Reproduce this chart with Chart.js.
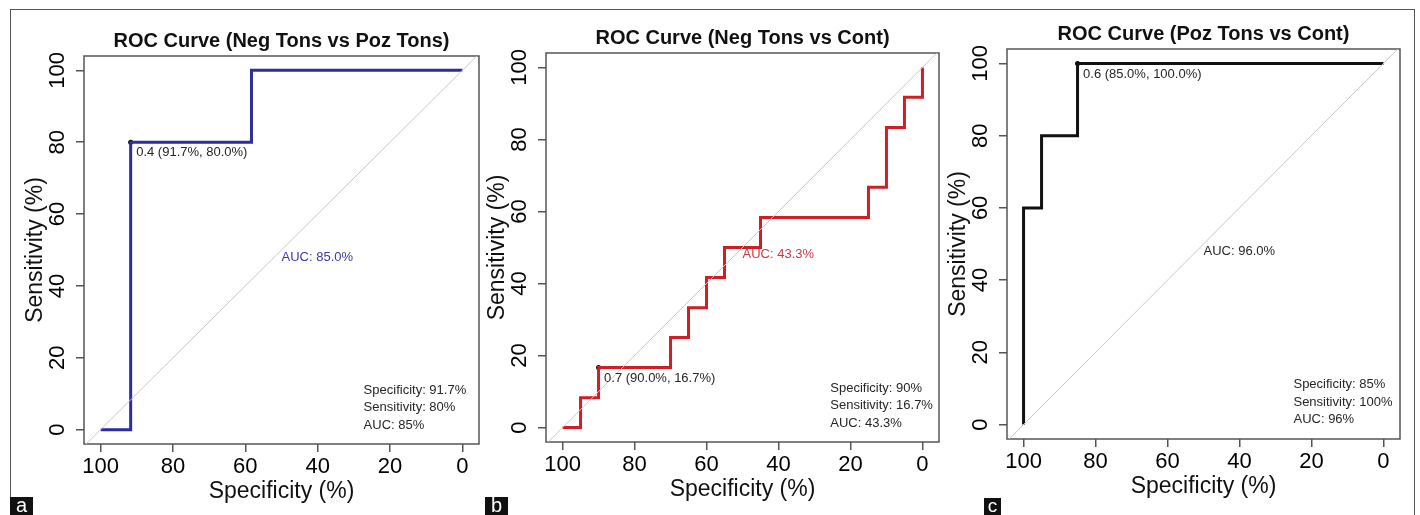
<!DOCTYPE html>
<html><head><meta charset="utf-8">
<script src="https://cdn.jsdelivr.net/npm/chart.js@4.4.1/dist/chart.umd.min.js"></script>
<style>
html,body{margin:0;padding:0;background:#fff;width:1420px;height:515px;overflow:hidden;position:relative;font-family:'Liberation Sans',Arial,sans-serif}
.frame{position:absolute;left:10px;top:9px;width:1405px;height:530px;border:1px solid #555;box-sizing:border-box}
canvas{position:absolute}
.tag{position:absolute;background:#111;color:#fff;font-size:20px;text-align:center;font-family:'Liberation Sans',Arial,sans-serif}
</style></head><body>
<div class="frame"></div>
<canvas id="ca" width="471" height="493" style="left:14px;top:16px"></canvas>
<canvas id="cb" width="469" height="494" style="left:476px;top:13px"></canvas>
<canvas id="cc" width="469" height="495" style="left:937px;top:9px"></canvas>
<div class="tag" style="left:10px;top:497px;width:23px;height:18px;line-height:16px">a</div>
<div class="tag" style="left:485px;top:497px;width:23px;height:18px;line-height:16px">b</div>
<div class="tag" style="left:984px;top:498px;width:17px;height:17px;line-height:15px;font-size:19px">c</div>
<script>
// ---- data ----
const tickValues = [0, 20, 40, 60, 80, 100];
const titles = ["ROC Curve (Neg Tons vs Poz Tons)", "ROC Curve (Neg Tons vs Cont)", "ROC Curve (Poz Tons vs Cont)"];
const xAxisTitle = "Specificity (%)";
const yAxisTitle = "Sensitivity (%)";

const specA = [100, 91.7, 91.7, 58.3, 58.3, 0];
const sensA = [0, 0, 80, 80, 100, 100];
const specB = [100, 95, 95, 90, 90, 70, 70, 65, 65, 60, 60, 55, 55, 45, 45, 15, 15, 10, 10, 5, 5, 0, 0];
const sensB = [0, 0, 8.3, 8.3, 16.7, 16.7, 25, 25, 33.3, 33.3, 41.7, 41.7, 50, 50, 58.3, 58.3, 66.7, 66.7, 83.3, 83.3, 91.7, 91.7, 100];
const specC = [100, 100, 95, 95, 85, 85, 0];
const sensC = [0, 60, 60, 80, 80, 100, 100];

const chanceSpec = [110, -10];
const chanceSens = [-10, 110];

const bestA = [91.7, 80.0];
const bestB = [90.0, 16.7];
const bestC = [85.0, 100.0];
const bestLabels = ["0.4 (91.7%, 80.0%)", "0.7 (90.0%, 16.7%)", "0.6 (85.0%, 100.0%)"];
const aucLabels = ["AUC: 85.0%", "AUC: 43.3%", "AUC: 96.0%"];
const infoA = ["Specificity: 91.7%", "Sensitivity: 80%", "AUC: 85%"];
const infoB = ["Specificity: 90%", "Sensitivity: 16.7%", "AUC: 43.3%"];
const infoC = ["Specificity: 85%", "Sensitivity: 100%", "AUC: 96%"];

// ---- rendering ----
const FONT = "'Liberation Sans', Arial, sans-serif";
Chart.defaults.font.family = FONT;

const rocText = {
  id: 'rocText',
  beforeDatasetsDraw(chart) {
    const a = chart.chartArea, ctx = chart.ctx;
    ctx.save();
    ctx.strokeStyle = '#555';
    ctx.lineWidth = 1.5;
    ctx.strokeRect(a.left, a.top, a.right - a.left, a.bottom - a.top);
    ctx.restore();
  },
  afterDatasetsDraw(chart, args, o) {
    const xs = chart.scales.x, ys = chart.scales.y, ctx = chart.ctx;
    ctx.save();
    ctx.textBaseline = 'middle';
    ctx.textAlign = 'left';
    ctx.font = "13px " + FONT;
    ctx.fillStyle = '#262626';
    ctx.fillText(o.best, xs.getPixelForValue(o.bx) + 5.5, ys.getPixelForValue(o.by) + 10.5);
    ctx.fillStyle = o.aucColor;
    ctx.fillText(o.auc, xs.getPixelForValue(50), ys.getPixelForValue(50) + 7);
    ctx.fillStyle = '#262626';
    const x0 = xs.getPixelForValue(o.infoX), y0 = ys.getPixelForValue(11);
    for (let i = 0; i < o.info.length; i++) ctx.fillText(o.info[i], x0, y0 + i * 17.5);
    ctx.restore();
  }
};

function pts(xs, ys) { return xs.map((v, i) => ({x: v, y: ys[i]})); }

function makeChart(id, title, spec, sens, best, bestLabel, auc, info, color, aucColor, infoX) {
  new Chart(document.getElementById(id), {
    type: 'scatter',
    data: { datasets: [
      {data: pts(chanceSpec, chanceSens), borderColor: '#c8c8c8', borderWidth: 1, showLine: true, pointRadius: 0},
      {data: pts(spec, sens), borderColor: color, borderWidth: 3, showLine: true, pointRadius: 0, tension: 0},
      {data: [{x: best[0], y: best[1]}], pointRadius: 2.5, backgroundColor: '#000', borderWidth: 0, showLine: false}
    ]},
    options: {
      responsive: false, animation: false, events: [], devicePixelRatio: 1,
      layout: {padding: {left: 0, right: 6, top: 0, bottom: 0}},
      plugins: {
        legend: {display: false}, tooltip: {enabled: false},
        title: {display: true, text: title, fullSize: false, color: '#111',
                font: {size: 20, weight: 'bold', lineHeight: 1}, padding: {top: 15.5, bottom: 4.5}},
        rocText: {best: bestLabel, bx: best[0], by: best[1], auc: auc, aucColor: aucColor, info: info, infoX: infoX}
      },
      scales: {
        x: {type: 'linear', position: 'bottom', reverse: true, min: -4.6, max: 104.6,
            afterBuildTicks: s => { s.ticks = tickValues.map(v => ({value: v})); },
            afterFit: s => { s.height = 65; },
            grid: {drawOnChartArea: false, drawTicks: true, tickLength: 8, color: '#555', lineWidth: 1.5},
            border: {display: false},
            ticks: {autoSkip: false, maxRotation: 0, minRotation: 0, padding: 4, color: '#000', font: {size: 22, lineHeight: 1}},
            title: {display: true, text: xAxisTitle, color: '#111', font: {size: 23, lineHeight: 1}, padding: {top: 0, bottom: 6}}},
        y: {type: 'linear', position: 'left', min: -4, max: 104,
            afterBuildTicks: s => { s.ticks = tickValues.map(v => ({value: v})); },
            afterFit: s => { s.width = 70; },
            grid: {drawOnChartArea: false, drawTicks: true, tickLength: 8, color: '#555', lineWidth: 1.5},
            border: {display: false},
            ticks: {autoSkip: false, minRotation: 90, maxRotation: 90, crossAlign: 'center', padding: 0, color: '#000', font: {size: 22, lineHeight: 1}},
            title: {display: true, text: yAxisTitle, color: '#111', font: {size: 23, lineHeight: 1}, padding: {top: 10.5, bottom: 0}}}
      }
    },
    plugins: [rocText]
  });
}

makeChart('ca', titles[0], specA, sensA, bestA, bestLabels[0], aucLabels[0], infoA, '#2d2d9f', '#3a3aa8', 27.3);
makeChart('cb', titles[1], specB, sensB, bestB, bestLabels[1], aucLabels[1], infoB, '#cf1f26', '#cf3a3f', 25.6);
makeChart('cc', titles[2], specC, sensC, bestC, bestLabels[2], aucLabels[2], infoC, '#111111', '#262626', 25.0);
</script>
</body></html>
